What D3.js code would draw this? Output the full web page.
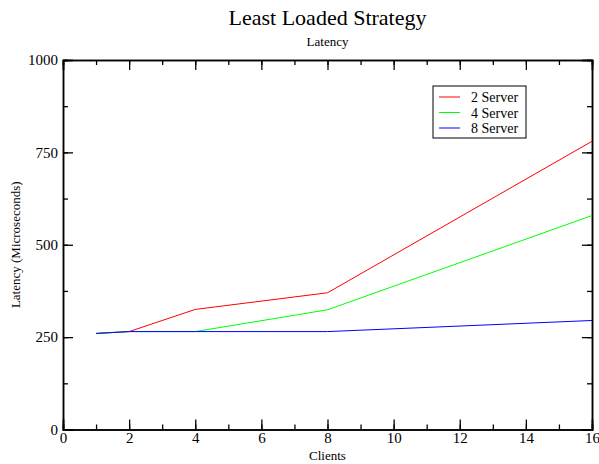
<!DOCTYPE html>
<html>
<head>
<meta charset="utf-8">
<script src="https://cdn.jsdelivr.net/npm/d3@7"></script>
<style>
  body { margin: 0; background: #fff; }
  text { font-family: "Liberation Serif", "Times New Roman", serif; fill: #000; }
</style>
</head>
<body>
<div id="chart"></div>
<script>
// data
const clients = [1, 2, 4, 8, 16];
const server2 = [260, 265, 325, 370, 780];
const server4 = [260, 265, 265, 324, 579];
const server8 = [260, 265, 265, 265, 295];
const seriesNames = ["2 Server", "4 Server", "8 Server"];
const seriesColors = ["#ff0000", "#00ff00", "#0000ff"];
const xTicks = [0, 2, 4, 6, 8, 10, 12, 14, 16];
const yTicks = [0, 250, 500, 750, 1000];

const width = 599, height = 464;
const margin = {top: 60, right: 7, bottom: 34.5, left: 63};

const svg = d3.select('#chart').append('svg')
  .attr('width', width)
  .attr('height', height);

const x = d3.scaleLinear().domain([0, 16]).range([margin.left, width - margin.right]);
const y = d3.scaleLinear().domain([0, 1000]).range([height - margin.bottom, margin.top]);

// titles
svg.append('text').attr('x', (margin.left + width - margin.right) / 2).attr('y', 25)
  .attr('text-anchor', 'middle').style('font-size', '22px').text('Least Loaded Strategy');
svg.append('text').attr('x', (margin.left + width - margin.right) / 2).attr('y', 46)
  .attr('text-anchor', 'middle').style('font-size', '13px').text('Latency');

// axes, ticks on all four sides pointing inward
const minorX = d3.range(0, 17, 1);
const minorY = d3.range(0, 1001, 125);

svg.append('g').attr('transform', `translate(0,${y(0)})`)
  .call(d3.axisBottom(x).tickValues(minorX).tickSize(-5).tickFormat(''));
svg.append('g').attr('transform', `translate(0,${y(0)})`)
  .call(d3.axisBottom(x).tickValues(xTicks).tickSize(-10).tickPadding(3).tickFormat(d3.format('d')));
svg.append('g').attr('transform', `translate(0,${y(1000)})`)
  .call(d3.axisTop(x).tickValues(minorX).tickSize(-5).tickFormat(''));
svg.append('g').attr('transform', `translate(0,${y(1000)})`)
  .call(d3.axisTop(x).tickValues(xTicks).tickSize(-10).tickFormat(''));

svg.append('g').attr('transform', `translate(${x(0)},0)`)
  .call(d3.axisLeft(y).tickValues(minorY).tickSize(-5).tickFormat(''));
svg.append('g').attr('transform', `translate(${x(0)},0)`)
  .call(d3.axisLeft(y).tickValues(yTicks).tickSize(-10).tickPadding(5).tickFormat(d3.format('d')));
svg.append('g').attr('transform', `translate(${x(16)},0)`)
  .call(d3.axisRight(y).tickValues(minorY).tickSize(-5).tickFormat(''));
svg.append('g').attr('transform', `translate(${x(16)},0)`)
  .call(d3.axisRight(y).tickValues(yTicks).tickSize(-10).tickFormat(''));

svg.selectAll('.domain').attr('stroke', '#000').attr('stroke-width', 1.5);
svg.selectAll('.tick line').attr('stroke', '#000').attr('stroke-width', 1.3);
svg.selectAll('.tick text')
  .attr('fill', '#000')
  .style('font-size', '15px')
  .style('font-family', '"Liberation Serif", serif');

// axis labels
svg.append('text').attr('x', (margin.left + width - margin.right) / 2).attr('y', 460)
  .attr('text-anchor', 'middle').style('font-size', '13px').text('Clients');
svg.append('text')
  .attr('transform', `translate(20,${(y(0) + y(1000)) / 2}) rotate(-90)`)
  .attr('text-anchor', 'middle').style('font-size', '13px').text('Latency (Microseconds)');

// lines
const series = [server2, server4, server8];
const line = d3.line().x((d, i) => x(clients[i])).y(d => y(d));
series.forEach((vals, k) => {
  svg.append('path').datum(vals)
    .attr('d', line)
    .attr('fill', 'none')
    .attr('stroke', seriesColors[k])
    .attr('stroke-width', 1);
});

// legend
const legend = svg.append('g').attr('transform', 'translate(433,86)');
legend.append('rect').attr('width', 93).attr('height', 52)
  .attr('fill', '#fff').attr('stroke', '#000').attr('stroke-width', 1);
seriesNames.forEach((name, k) => {
  const ly = 11 + k * 15.5;
  legend.append('line').attr('x1', 6).attr('x2', 27).attr('y1', ly).attr('y2', ly)
    .attr('stroke', seriesColors[k]).attr('stroke-width', 1);
  legend.append('text').attr('x', 38).attr('y', ly + 5)
    .style('font-size', '14px').text(name);
});
</script>
</body>
</html>
